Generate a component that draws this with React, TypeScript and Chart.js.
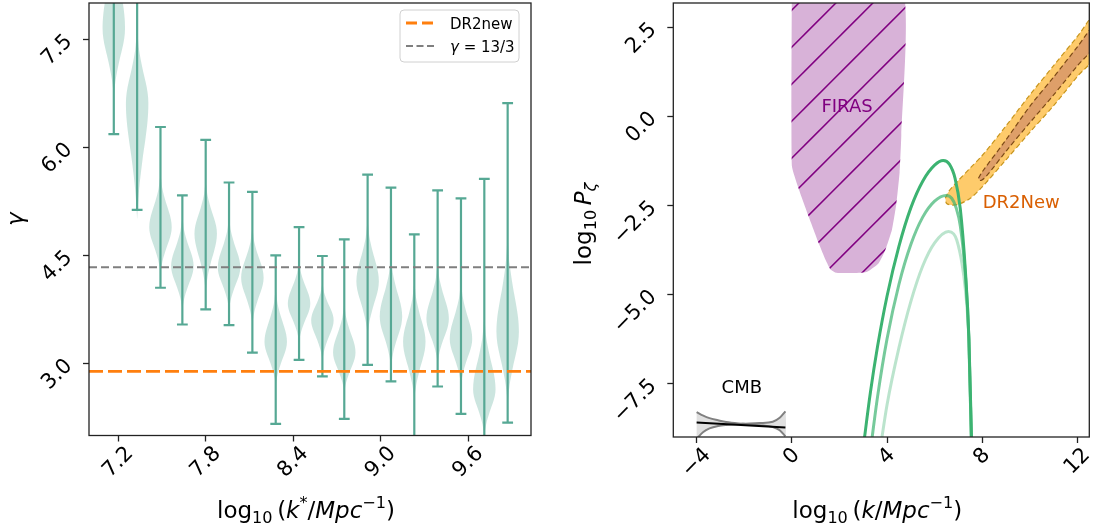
import React, { useEffect, useRef } from 'react';
import { Chart, registerables } from 'chart.js';

Chart.register(...registerables);

const FONT = '"DejaVu Sans", "Liberation Sans", sans-serif';
const TICK_SIZE = 21;
const TITLE_SIZE = 23;
const NOTE_SIZE = 18;

// ---------------- left panel data ----------------
const K_STAR = [7.17, 7.33, 7.49, 7.64, 7.80, 7.96, 8.12, 8.28, 8.44, 8.60, 8.75, 8.91, 9.07, 9.23, 9.39, 9.55, 9.71, 9.87];
const GAMMA_MIN = [6.18, 5.13, 4.05, 3.54, 3.75, 3.53, 3.15, 2.16, 3.05, 2.82, 2.23, 2.98, 2.75, 1.85, 2.68, 2.30, 1.85, 2.18];
const GAMMA_MAX = [8.6, 8.7, 6.28, 5.33, 6.10, 5.51, 5.38, 4.50, 4.89, 4.49, 4.72, 5.62, 5.44, 4.79, 5.40, 5.29, 5.56, 6.61];
const BODY_LOW = [6.70, 5.00, 4.25, 3.75, 4.00, 3.75, 3.55, 2.70, 3.30, 3.05, 2.60, 3.40, 2.95, 2.50, 3.00, 2.70, 2.00, 2.45];
const BODY_PEAK = [7.65, 6.61, 4.89, 4.35, 4.80, 4.33, 4.19, 3.30, 3.83, 3.60, 3.15, 4.14, 3.65, 3.30, 3.62, 3.34, 2.64, 3.44];
const BODY_HIGH = [9.00, 7.60, 5.60, 5.00, 5.50, 5.00, 4.85, 4.00, 4.40, 4.10, 3.80, 4.95, 4.45, 4.10, 4.35, 4.10, 3.60, 4.70];
const DR2NEW_GAMMA = 2.89;
const GAMMA_REF = 13 / 3;
const X_TICKS_L = [7.2, 7.8, 8.4, 9.0, 9.6];
const X_LABELS_L = ['7.2', '7.8', '8.4', '9.0', '9.6'];
const Y_TICKS_L = [3.0, 4.5, 6.0, 7.5];
const Y_LABELS_L = ['3.0', '4.5', '6.0', '7.5'];

// ---------------- right panel data ----------------
const FIRAS_X = [0, 0, 0.27, 0.70, 1.13, 1.42, 1.63, 1.85, 2.5, 3.14, 3.64, 3.93, 4.21, 4.40, 4.53, 4.60, 4.62, 0];
const FIRAS_Y = [3.6, -1.38, -2.0, -2.8, -3.56, -4.03, -4.30, -4.39, -4.40, -4.37, -4.13, -3.75, -3.18, -2.42, -1.57, -0.53, 3.6, 3.6];

const CMB_X = [-4.0, -0.27];
const CMB_Y = [-8.59, -8.73];
const CMB_A_X = [-4.0, -3.72, -3.46, -3.1, -2.76, -2.06, -1.36, -0.8, -0.51, -0.27];
const CMB_A_Y = [-8.30, -8.40, -8.47, -8.53, -8.58, -8.63, -8.67, -8.72, -8.81, -8.98];
const CMB_B_X = [-4.0, -3.72, -3.46, -3.1, -2.76, -2.06, -1.36, -0.8, -0.51, -0.27];
const CMB_B_Y = [-9.05, -8.86, -8.76, -8.69, -8.66, -8.63, -8.61, -8.57, -8.46, -8.28];

const G1_X = [3.0, 3.3, 3.6, 4.0, 4.5, 5.0, 5.5, 6.0, 6.36, 6.62, 6.86, 7.08, 7.29, 7.44, 7.56];
const G1_Y = [-9.3, -7.76, -6.47, -5.05, -3.65, -2.57, -1.82, -1.37, -1.24, -1.34, -1.74, -2.6, -4.3, -6.2, -9.3];
const G2_X = [3.3, 3.6, 4.0, 4.5, 5.0, 5.5, 6.0, 6.48, 6.72, 6.9, 7.08, 7.29, 7.44, 7.55];
const G2_Y = [-9.4, -7.88, -6.25, -4.72, -3.6, -2.83, -2.38, -2.22, -2.3, -2.56, -3.08, -4.42, -6.25, -9.3];
const G3_X = [3.7, 4.0, 4.5, 5.0, 5.5, 6.0, 6.58, 6.8, 6.93, 7.15, 7.29, 7.44, 7.55];
const G3_Y = [-9.4, -8.1, -6.5, -5.2, -4.2, -3.55, -3.23, -3.3, -3.47, -4.13, -4.85, -6.3, -9.3];

const DR2_OUT_X = [6.45, 6.6, 7.0, 7.5, 8.0, 9.0, 10.0, 11.0, 12.0, 12.8, 12.8, 12.0, 11.0, 10.0, 9.0, 8.0, 7.5, 7.0, 6.7, 6.5, 6.45];
const DR2_OUT_Y = [-2.3, -2.1, -1.8, -1.45, -1.1, -0.27, 0.6, 1.42, 2.24, 2.9, 1.75, 1.12, 0.3, -0.45, -1.22, -1.98, -2.3, -2.47, -2.49, -2.44, -2.3];
const DR2_IN_X = [7.84, 8.0, 9.0, 10.0, 11.0, 12.0, 12.8, 12.8, 12.0, 11.0, 10.0, 9.0, 8.2, 7.95, 7.84];
const DR2_IN_Y = [-1.74, -1.56, -0.66, 0.28, 1.1, 1.95, 2.62, 2.05, 1.42, 0.6, -0.18, -0.98, -1.66, -1.80, -1.74];

const X_TICKS_R = [-4, 0, 4, 8, 12];
const X_LABELS_R = ['\u22124', '0', '4', '8', '12'];
const Y_TICKS_R = [-7.5, -5, -2.5, 0, 2.5];
const Y_LABELS_R = ['\u22127.5', '\u22125.0', '\u22122.5', '0.0', '2.5'];

// ---------------- styles ----------------
const VIOLIN_EDGE = 'rgb(86,168,148)';
const VIOLIN_FILL = 'rgba(86,168,148,0.3)';
const VIOLIN_HW = 0.077;
const CAP_HW = 0.037;
const PROFILE_D = [1, 0.75, 0.5, 0.3, 0.15, 0];
const PROFILE_W = [0, 0.17, 0.46, 0.75, 0.93, 1];
const GREEN = '60,179,113';
const ORANGE_DASH = [14, 5];
const GRAY_DASH = [8, 4];

type Pt = { x: number; y: number | null };
const pts = (xs: number[], ys: number[]): Pt[] => xs.map((x, i) => ({ x, y: ys[i] }));

function violinOutline(i: number): Pt[] {
  const x = K_STAR[i], lo = BODY_LOW[i], pk = BODY_PEAK[i], hi = BODY_HIGH[i];
  const right: Pt[] = [];
  for (let j = 0; j < PROFILE_D.length; j++) right.push({ x: x + VIOLIN_HW * PROFILE_W[j], y: pk - (pk - lo) * PROFILE_D[j] });
  for (let j = PROFILE_D.length - 2; j >= 0; j--) right.push({ x: x + VIOLIN_HW * PROFILE_W[j], y: pk + (hi - pk) * PROFILE_D[j] });
  const left = right.slice().reverse().map((p) => ({ x: 2 * x - p.x, y: p.y }));
  return right.concat(left.slice(1));
}

function errorBar(i: number): Pt[] {
  const x = K_STAR[i];
  return [
    { x: x - CAP_HW, y: GAMMA_MAX[i] }, { x: x + CAP_HW, y: GAMMA_MAX[i] }, { x, y: null },
    { x, y: GAMMA_MAX[i] }, { x, y: GAMMA_MIN[i] }, { x, y: null },
    { x: x - CAP_HW, y: GAMMA_MIN[i] }, { x: x + CAP_HW, y: GAMMA_MIN[i] },
  ];
}

type Seg = { t: string; it?: boolean; sc?: 'sub' | 'sup' };
function segFont(s: Seg, size: number) {
  const sz = s.sc ? size * 0.7 : size;
  return `${s.it ? 'italic ' : ''}${sz}px ${FONT}`;
}
function drawRich(ctx: CanvasRenderingContext2D, segs: Seg[], size: number, x: number, y: number, rot: number, align: 'center' | 'left' = 'center', color = '#000') {
  ctx.save();
  ctx.translate(x, y);
  ctx.rotate(rot);
  let w = 0;
  for (const s of segs) { ctx.font = segFont(s, size); w += ctx.measureText(s.t).width; }
  let cx = align === 'center' ? -w / 2 : 0;
  ctx.textAlign = 'left';
  ctx.textBaseline = 'alphabetic';
  ctx.fillStyle = color;
  for (const s of segs) {
    ctx.font = segFont(s, size);
    const dy = s.sc === 'sub' ? size * 0.22 : s.sc === 'sup' ? -size * 0.42 : 0;
    ctx.fillText(s.t, cx, dy);
    cx += ctx.measureText(s.t).width;
  }
  ctx.restore();
}

function drawXLabels(ctx: CanvasRenderingContext2D, scale: any, ticks: number[], labels: string[], axisY: number) {
  ctx.save();
  ctx.font = `${TICK_SIZE}px ${FONT}`;
  ctx.fillStyle = '#000';
  ctx.textAlign = 'center';
  ctx.textBaseline = 'middle';
  ticks.forEach((v, i) => {
    const w = ctx.measureText(labels[i]).width;
    const side = (w + TICK_SIZE) * Math.SQRT1_2;
    const cx = scale.getPixelForValue(v);
    const cy = axisY + 7.5 + side / 2;
    ctx.save(); ctx.translate(cx, cy); ctx.rotate(-Math.PI / 4); ctx.fillText(labels[i], 0, 0); ctx.restore();
  });
  ctx.restore();
}
function drawYLabels(ctx: CanvasRenderingContext2D, scale: any, ticks: number[], labels: string[], axisX: number) {
  ctx.save();
  ctx.font = `${TICK_SIZE}px ${FONT}`;
  ctx.fillStyle = '#000';
  ctx.textAlign = 'center';
  ctx.textBaseline = 'middle';
  ticks.forEach((v, i) => {
    const w = ctx.measureText(labels[i]).width;
    const side = (w + TICK_SIZE) * Math.SQRT1_2;
    const cx = axisX - 12.5 - side / 2;
    const cy = scale.getPixelForValue(v) - 0.38 * TICK_SIZE + side / 2;
    ctx.save(); ctx.translate(cx, cy); ctx.rotate(-Math.PI / 4); ctx.fillText(labels[i], 0, 0); ctx.restore();
  });
  ctx.restore();
}

function drawFrame(chart: any) {
  const { ctx, chartArea: a } = chart;
  ctx.save();
  ctx.strokeStyle = '#222';
  ctx.lineWidth = 1.3;
  ctx.strokeRect(a.left, a.top, a.right - a.left, a.bottom - a.top);
  ctx.restore();
}

const axisOpts = (min: number, max: number, ticks: number[], prop: 'width' | 'height', size: number) => ({
  type: 'linear',
  min,
  max,
  bounds: 'data',
  afterBuildTicks: (a: any) => { a.ticks = ticks.map((v) => ({ value: v })); },
  afterFit: (s: any) => { s[prop] = size; },
  ticks: { display: false },
  grid: { display: true, drawOnChartArea: false, drawTicks: true, tickLength: 6, tickWidth: 1.3, tickColor: '#222' },
  border: { display: false },
  title: { display: false },
});

const XTITLE_L: Seg[] = [{ t: 'log' }, { t: '10', sc: 'sub' }, { t: '\u2009(' }, { t: 'k', it: true }, { t: '*', sc: 'sup' }, { t: '/' }, { t: 'Mpc', it: true }, { t: '\u22121', sc: 'sup' }, { t: ')' }];
const XTITLE_R: Seg[] = [{ t: 'log' }, { t: '10', sc: 'sub' }, { t: '\u2009(' }, { t: 'k', it: true }, { t: '/' }, { t: 'Mpc', it: true }, { t: '\u22121', sc: 'sup' }, { t: ')' }];
const YTITLE_R: Seg[] = [{ t: 'log' }, { t: '10', sc: 'sub' }, { t: '\u2009' }, { t: 'P', it: true }, { t: '\u03b6', it: true, sc: 'sub' }];

function buildLeft(canvas: HTMLCanvasElement) {
  const datasets: any[] = [];
  K_STAR.forEach((_, i) => {
    datasets.push({ data: violinOutline(i), showLine: true, fill: 'shape', backgroundColor: VIOLIN_FILL, borderColor: 'rgba(0,0,0,0)', borderWidth: 0, tension: 0.35, order: 3, clip: 0 });
    datasets.push({ data: errorBar(i), showLine: true, fill: false, borderColor: VIOLIN_EDGE, borderWidth: 2.2, tension: 0, order: 2, clip: 0, spanGaps: false });
  });
  const XMIN = 7.0, XMAX = 10.03;
  datasets.push({ data: [{ x: XMIN, y: DR2NEW_GAMMA }, { x: XMAX, y: DR2NEW_GAMMA }], showLine: true, fill: false, borderColor: '#ff7f0e', borderWidth: 2.8, borderDash: ORANGE_DASH, order: 1, clip: 0 });
  datasets.push({ data: [{ x: XMIN, y: GAMMA_REF }, { x: XMAX, y: GAMMA_REF }], showLine: true, fill: false, borderColor: '#7f7f7f', borderWidth: 2, borderDash: GRAY_DASH, order: 1, clip: 0 });

  const deco = {
    id: 'decoL',
    afterDatasetsDraw(chart: any) {
      drawFrame(chart);
    },
    afterDraw(chart: any) {
      const { ctx, chartArea: a, scales } = chart;
      drawXLabels(ctx, scales.x, X_TICKS_L, X_LABELS_L, a.bottom);
      drawYLabels(ctx, scales.y, Y_TICKS_L, Y_LABELS_L, a.left);
      drawRich(ctx, XTITLE_L, TITLE_SIZE, (a.left + a.right) / 2 - 4, 518, 0);
      drawRich(ctx, [{ t: '\u03b3', it: true }], TITLE_SIZE, 22.6, (a.top + a.bottom) / 2, -Math.PI / 2);
      // legend
      const bx = a.right - 131, by = a.top + 7, bw = 119, bh = 52;
      ctx.save();
      ctx.beginPath();
      (ctx as any).roundRect(bx, by, bw, bh, 4);
      ctx.fillStyle = 'rgba(255,255,255,0.8)';
      ctx.fill();
      ctx.strokeStyle = '#d0d0d0';
      ctx.lineWidth = 1;
      ctx.stroke();
      ctx.lineWidth = 2.8; ctx.strokeStyle = '#ff7f0e'; ctx.setLineDash([11, 5]);
      ctx.beginPath(); ctx.moveTo(bx + 6, by + 13); ctx.lineTo(bx + 34, by + 13); ctx.stroke();
      ctx.lineWidth = 2; ctx.strokeStyle = '#7f7f7f'; ctx.setLineDash([7, 3.5]);
      ctx.beginPath(); ctx.moveTo(bx + 6, by + 36); ctx.lineTo(bx + 34, by + 36); ctx.stroke();
      ctx.setLineDash([]);
      ctx.restore();
      drawRich(ctx, [{ t: 'DR2new' }], 15, bx + 50, by + 18.5, 0, 'left');
      drawRich(ctx, [{ t: '\u03b3', it: true }, { t: ' = 13/3' }], 15, bx + 50, by + 41.5, 0, 'left');
    },
  };

  return new Chart(canvas, {
    type: 'scatter',
    data: { datasets },
    options: {
      responsive: false,
      animation: false,
      events: [],
      layout: { padding: { left: 0, right: 16, top: 3, bottom: 0 } },
      elements: { point: { radius: 0 }, line: { capBezierPoints: false } },
      plugins: { legend: { display: false }, tooltip: { enabled: false } },
      scales: {
        x: axisOpts(XMIN, XMAX, X_TICKS_L, 'height', 95.5),
        y: axisOpts(2.0, 8.0, Y_TICKS_L, 'width', 89),
      } as any,
    },
    plugins: [deco],
  } as any);
}

function makeHatch(): CanvasPattern | string {
  const s = 37;
  const c = document.createElement('canvas');
  c.width = s; c.height = s;
  const g = c.getContext('2d');
  if (!g) return 'rgb(216,178,216)';
  g.fillStyle = 'rgb(216,178,216)';
  g.fillRect(0, 0, s, s);
  g.strokeStyle = '#800080';
  g.lineWidth = 1.5;
  const phase = 32.9;
  for (let k = -1; k <= 2; k++) {
    const c0 = phase + k * s;
    g.beginPath();
    g.moveTo(-3, c0 + 3);
    g.lineTo(s + 3, c0 - s - 3);
    g.stroke();
  }
  const p = g.createPattern(c, 'repeat');
  return p || 'rgb(216,178,216)';
}

function buildRight(canvas: HTMLCanvasElement) {
  const hatch = makeHatch();
  const bandPoly = pts(CMB_A_X, CMB_A_Y).concat(pts(CMB_B_X, CMB_B_Y).reverse());
  const line = (data: Pt[], color: string, width: number, order: number, extra: any = {}) => ({
    data, showLine: true, fill: false, borderColor: color, borderWidth: width, order, clip: 0, ...extra,
  });
  const datasets: any[] = [
    { data: pts(FIRAS_X, FIRAS_Y), showLine: true, fill: 'shape', backgroundColor: hatch, borderColor: 'rgba(0,0,0,0)', borderWidth: 0, tension: 0.15, order: 10, clip: 0 },
    { data: bandPoly, showLine: true, fill: 'shape', backgroundColor: 'rgba(0,0,0,0.12)', borderColor: 'rgba(0,0,0,0)', borderWidth: 0, tension: 0.2, order: 9, clip: 0 },
    line(pts(CMB_A_X, CMB_A_Y), '#808080', 2, 8, { cubicInterpolationMode: 'monotone' }),
    line(pts(CMB_B_X, CMB_B_Y), '#808080', 2, 8, { cubicInterpolationMode: 'monotone' }),
    line(pts(CMB_X, CMB_Y), '#000', 2, 7),
    { data: pts(DR2_OUT_X, DR2_OUT_Y), showLine: true, fill: 'shape', backgroundColor: '#fecb6b', borderColor: '#c8961e', borderWidth: 1.2, borderDash: [5, 3], tension: 0.3, order: 6, clip: 0 },
    { data: pts(DR2_IN_X, DR2_IN_Y), showLine: true, fill: 'shape', backgroundColor: '#de9f69', borderColor: '#7d4a17', borderWidth: 1.2, borderDash: [5, 3], tension: 0.3, order: 5, clip: 0 },
    line(pts(G3_X, G3_Y), `rgba(${GREEN},0.35)`, 3, 4, { cubicInterpolationMode: 'monotone' }),
    line(pts(G2_X, G2_Y), `rgba(${GREEN},0.7)`, 3, 3, { cubicInterpolationMode: 'monotone' }),
    line(pts(G1_X, G1_Y), `rgba(${GREEN},1)`, 3, 2, { cubicInterpolationMode: 'monotone' }),
  ];

  const deco = {
    id: 'decoR',
    afterDatasetsDraw(chart: any) {
      const { ctx, scales } = chart;
      const note = (t: string, x: number, y: number, color: string) => {
        ctx.save();
        ctx.font = `${NOTE_SIZE}px ${FONT}`;
        ctx.fillStyle = color;
        ctx.textAlign = 'center';
        ctx.textBaseline = 'middle';
        ctx.fillText(t, scales.x.getPixelForValue(x), scales.y.getPixelForValue(y));
        ctx.restore();
      };
      note('FIRAS', 2.32, 0.26, '#800080');
      note('CMB', -2.1, -7.64, '#000');
      note('DR2New', 9.64, -2.44, '#d95f02');
      drawFrame(chart);
    },
    afterDraw(chart: any) {
      const { ctx, chartArea: a, scales } = chart;
      drawXLabels(ctx, scales.x, X_TICKS_R, X_LABELS_R, a.bottom);
      drawYLabels(ctx, scales.y, Y_TICKS_R, Y_LABELS_R, a.left);
      drawRich(ctx, XTITLE_R, TITLE_SIZE, (a.left + a.right) / 2 - 4, 518, 0);
      drawRich(ctx, YTITLE_R, TITLE_SIZE, 44, (a.top + a.bottom) / 2 + 4, -Math.PI / 2);
    },
  };

  return new Chart(canvas, {
    type: 'scatter',
    data: { datasets },
    options: {
      responsive: false,
      animation: false,
      events: [],
      layout: { padding: { left: 0, right: 4.7, top: 3, bottom: 0 } },
      elements: { point: { radius: 0 }, line: { capBezierPoints: false } },
      plugins: { legend: { display: false }, tooltip: { enabled: false } },
      scales: {
        x: axisOpts(-4.98, 12.5, X_TICKS_R, 'height', 94),
        y: axisOpts(-9.0, 3.18, Y_TICKS_R, 'width', 126.3),
      } as any,
    },
    plugins: [deco],
  } as any);
}

export default function App() {
  const leftRef = useRef<HTMLCanvasElement>(null);
  const rightRef = useRef<HTMLCanvasElement>(null);
  useEffect(() => {
    const l = buildLeft(leftRef.current as HTMLCanvasElement);
    const r = buildRight(rightRef.current as HTMLCanvasElement);
    return () => { l.destroy(); r.destroy(); };
  }, []);
  return (
    <div style={{ position: 'fixed', left: 0, top: 0, width: 1094, height: 531, background: '#fff' }}>
      <canvas ref={leftRef} width={547} height={531} style={{ position: 'absolute', left: 0, top: 0, width: 547, height: 531 }} />
      <canvas ref={rightRef} width={547} height={531} style={{ position: 'absolute', left: 547, top: 0, width: 547, height: 531 }} />
    </div>
  );
}
